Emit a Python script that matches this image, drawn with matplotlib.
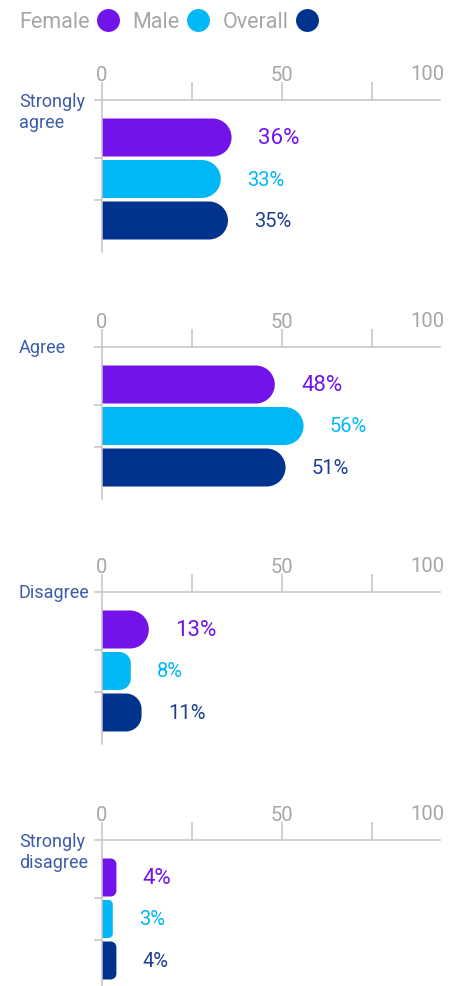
import matplotlib
matplotlib.use("Agg")
import matplotlib.pyplot as plt
from matplotlib.patches import PathPatch
from matplotlib.path import Path
from matplotlib.lines import Line2D
import numpy as np

plt.rcParams['font.family'] = ['Roboto', 'DejaVu Sans']

# Survey responses (% of respondents)
responses = ["Strongly\nagree", "Agree", "Disagree", "Strongly\ndisagree"]
groups = ["Female", "Male", "Overall"]
female = [36, 48, 13, 4]
male = [33, 56, 8, 3]
overall = [35, 51, 11, 4]
tick_values = [0, 25, 50, 75]
tick_labels = ["0", "", "50", ""]
end_label = "100"

colors = ["#7213EA", "#00B8F5", "#00338D"]
text_colors = ["#7213EA", "#00B8F5", "#1f3f8f"]
label_sizes = [16, 14.5, 14.5]
cat_color = "#3d5ba9"
grey_text = "#a6a6a6"
axis_color = "#c4c4c4"

W, H, DPI = 449, 987, 100
fig = plt.figure(figsize=(W / DPI, H / DPI), dpi=DPI)

left_px, right_px = 102, 440
panel_tops = [101, 348, 593, 841]
panel_h = 152
row_px = 41.5
first_offset = 37.5
xmax = 93.9

kx = (right_px - left_px) / xmax
ky = row_px
y_top = -first_offset / row_px
y_bot = y_top + panel_h / row_px
bar_h = 38 / row_px
cap_px = 19


def right_rounded_bar(x_end, y0, height, rx, ry):
    """Path of a bar starting at x=0 whose right-hand corners are rounded."""
    y1 = y0 + height
    verts = [(0, y0), (x_end - rx, y0)]
    codes = [Path.MOVETO, Path.LINETO]
    for (t1, t2, cy) in ((-90, 0, y0 + ry), (0, 90, y1 - ry)):
        arc = Path.arc(t1, t2)
        av = arc.vertices * np.array([rx, ry]) + np.array([x_end - rx, cy])
        verts.extend(av.tolist())
        codes.extend([Path.LINETO] + list(arc.codes[1:]))
    verts += [(0, y1), (0, y0)]
    codes += [Path.LINETO, Path.CLOSEPOLY]
    return Path(verts, codes)


series = [female, male, overall]

for p, (resp, top) in enumerate(zip(responses, panel_tops)):
    ax = fig.add_axes([left_px / W, 1 - (top + panel_h) / H,
                       (right_px - left_px) / W, panel_h / H])
    ax.set_xlim(0, xmax)
    ax.set_ylim(y_bot, y_top)
    for s in ("right", "bottom"):
        ax.spines[s].set_visible(False)
    for s in ("top", "left"):
        ax.spines[s].set_color(axis_color)
        ax.spines[s].set_linewidth(1.1)

    ax.xaxis.tick_top()
    ax.set_xticks(tick_values)
    ax.set_xticklabels(tick_labels)
    ax.tick_params(axis="x", length=13, width=1.1, color=axis_color,
                   labelcolor=grey_text, labelsize=14.5, pad=-1.6)
    ax.set_yticks([y_top, 0.5, 1.5])
    ax.set_yticklabels([])
    ax.tick_params(axis="y", length=6, width=1.1, color=axis_color)
    ax.annotate(end_label, (1.0, 1.0), xycoords="axes fraction",
                xytext=(3, 12.2), textcoords="offset points",
                ha="right", va="bottom", fontsize=14.5, color=grey_text)

    for i, vals in enumerate(series):
        v = vals[p]
        w_px = v * kx
        r_px = min(cap_px, 0.4 * w_px)
        path = right_rounded_bar(v, i - bar_h / 2, bar_h, r_px / kx, r_px / ky)
        ax.add_patch(PathPatch(path, fc=colors[i], ec="none", lw=0))
        ax.annotate(f"{v}%", (v, i), xytext=(19, 0),
                    textcoords="offset points", va="center", ha="left",
                    fontsize=label_sizes[i], color=text_colors[i])

    nlines = resp.count("\n") + 1
    yc = top + (nlines - 1) * 11.5
    fig.text(19 / W, 1 - yc / H, resp, ha="left", va="center",
             fontsize=13, color=cat_color, linespacing=1.2)

handles = [Line2D([], [], ls="none", marker="o", markersize=16.5,
                  markerfacecolor=c, markeredgecolor="none") for c in colors]
fig.legend(handles, groups, loc="center left",
           bbox_to_anchor=(19 / W, 1 - 23 / H), ncol=3, markerfirst=False,
           frameon=False, labelcolor=grey_text,
           handlelength=1.0, handletextpad=0.35, columnspacing=0.65,
           borderpad=0, borderaxespad=0, prop={"size": 15.5})

fig.savefig("out.png", dpi=DPI)
